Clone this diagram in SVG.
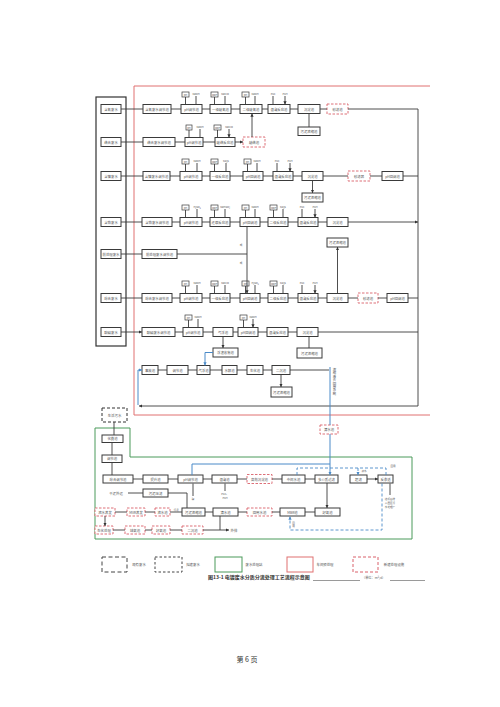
<svg xmlns="http://www.w3.org/2000/svg" width="500" height="707" viewBox="0 0 500 707">
<defs>
<marker id="ah" viewBox="0 0 6 6" refX="6" refY="3" markerWidth="3.2" markerHeight="3.2" orient="auto" markerUnits="userSpaceOnUse"><path d="M0,0L6,3L0,6z" fill="#333"/></marker>
<marker id="ahb" viewBox="0 0 6 6" refX="6" refY="3" markerWidth="3.2" markerHeight="3.2" orient="auto" markerUnits="userSpaceOnUse"><path d="M0,0L6,3L0,6z" fill="#4a8ac8"/></marker>
</defs>
<style>
.b{fill:#fff;stroke:#3a3a3a;stroke-width:1}
.r{fill:#fff;stroke:#d9606a;stroke-width:0.9;stroke-dasharray:2.5 1.5}
.s{fill:#fff;stroke:#3a3a3a;stroke-width:0.7}
.t{font-family:"Noto Sans CJK SC","Noto Sans",sans-serif;font-size:3.4px;fill:#555;text-anchor:middle;dominant-baseline:central}
.ts{font-size:2.6px}
.l{fill:none;stroke:#3a3a3a;stroke-width:0.9}
.a{marker-end:url(#ah)}
.bl{fill:none;stroke:#4a8ac8;stroke-width:1}
.bd{fill:none;stroke:#4a8ac8;stroke-width:0.9;stroke-dasharray:3 2}
.ab{marker-end:url(#ahb)}
</style>
<rect width="500" height="707" fill="#fff"/>

<!-- frames -->
<g id="frames">
<path d="M430,86H134V415H430" fill="none" stroke="#e07070" stroke-width="1"/>
<rect x="96" y="97" width="30" height="249" fill="none" stroke="#333" stroke-width="1.2"/>
<path d="M95,428H130V457H412V539H95Z" fill="none" stroke="#4a9a5a" stroke-width="1"/>
</g>

<!-- sources -->
<g id="s1"><rect class="b" x="101" y="104.5" width="20" height="9"/><text class="t" x="111" y="109">含氰废水</text></g>
<g id="s2"><rect class="b" x="101" y="137.5" width="20" height="9"/><text class="t" x="111" y="142">络合废水</text></g>
<g id="s3"><rect class="b" x="101" y="171.5" width="20" height="9"/><text class="t" x="111" y="176">含镍废水</text></g>
<g id="s4"><rect class="b" x="101" y="217.5" width="20" height="9"/><text class="t" x="111" y="222">含铬废水</text></g>
<g id="s5"><rect class="b" x="101" y="249.5" width="20" height="9"/><text class="t" x="111" y="254">前处理废水</text></g>
<g id="s6"><rect class="b" x="101" y="293.5" width="20" height="9"/><text class="t" x="111" y="298">综合废水</text></g>
<g id="s7"><rect class="b" x="101" y="327.5" width="20" height="9"/><text class="t" x="111" y="332">酸碱废水</text></g>

<!-- row 1 -->
<g id="c1"><rect class="b" x="143" y="104.5" width="28" height="9"/><text class="t" x="157" y="109">含氰废水调节池</text></g>
<g id="n1a"><rect class="b" x="181" y="104.5" width="21" height="9"/><text class="t" x="191.5" y="109">pH调节池</text><rect class="s" x="182" y="92" width="7" height="5"/><text class="t ts" x="185.5" y="94.5">pH</text><text class="t ts" x="196" y="93.5">NaOH</text></g>
<g id="n1b"><rect class="b" x="210" y="104.5" width="21" height="9"/><text class="t" x="220.5" y="109">一级破氰池</text><rect class="s" x="211" y="92" width="7" height="5"/><text class="t ts" x="214.5" y="94.5">ORP</text><text class="t ts" x="225" y="93.5">NaClO</text></g>
<g id="n1c"><rect class="b" x="240" y="104.5" width="22" height="9"/><text class="t" x="251" y="109">二级破氰池</text><rect class="s" x="242" y="92" width="7" height="5"/><text class="t ts" x="245.5" y="94.5">pH</text><text class="t ts" x="255" y="93.5">NaOH</text></g>
<g id="n1d"><rect class="b" x="268" y="104.5" width="22" height="9"/><text class="t" x="279" y="109">混凝反应池</text><text class="t ts" x="273" y="93.5">PAC</text><text class="t ts" x="285" y="93.5">PAM</text></g>
<g id="n1e"><rect class="b" x="298" y="104.5" width="22" height="9"/><text class="t" x="309" y="109">沉淀池</text></g>
<g id="n1f"><rect class="b" x="298" y="127" width="22" height="8.5"/><text class="t" x="309" y="131.25">污泥浓缩池</text></g>
<g id="n1g"><rect class="r" x="327" y="104" width="21" height="10"/><text class="t" x="337.5" y="109">砂滤池</text></g>

<!-- row 2 -->
<g id="c2"><rect class="b" x="143" y="137.5" width="32" height="9"/><text class="t" x="159" y="142">络合废水调节池</text></g>
<g id="n2a"><rect class="b" x="185" y="137.5" width="18" height="9"/><text class="t" x="194" y="142">pH调节池</text><rect class="s" x="186" y="125" width="6" height="5"/><text class="t ts" x="189" y="127.5">pH</text><text class="t ts" x="200" y="126.5">NaOH</text></g>
<g id="n2b"><rect class="b" x="215" y="137.5" width="20" height="9"/><text class="t" x="225" y="142">破络反应池</text><rect class="s" x="214" y="125" width="7" height="5"/><text class="t ts" x="217.5" y="127.5">ORP</text><text class="t ts" x="229" y="126.5">NaClO</text></g>
<g id="n2c"><rect class="r" x="243" y="137" width="22" height="10"/><text class="t" x="254" y="142">破络池</text></g>

<!-- row 3 -->
<g id="c3"><rect class="b" x="143" y="171.5" width="27" height="9"/><text class="t" x="156.5" y="176">含镍废水调节池</text></g>
<g id="n3a"><rect class="b" x="180" y="171.5" width="22" height="9"/><text class="t" x="191" y="176">pH调节池</text><rect class="s" x="182" y="159" width="7" height="5"/><text class="t ts" x="185.5" y="161.5">pH</text><text class="t ts" x="197" y="160.5">NaOH</text></g>
<g id="n3b"><rect class="b" x="210" y="171.5" width="20" height="9"/><text class="t" x="220" y="176">一级反应池</text><rect class="s" x="211" y="159" width="7" height="5"/><text class="t ts" x="214.5" y="161.5">ORP</text><text class="t ts" x="226" y="160.5">Na₂S</text></g>
<g id="n3c"><rect class="b" x="243" y="171.5" width="20" height="9"/><text class="t" x="253" y="176">pH回调池</text><rect class="s" x="244" y="159" width="7" height="5"/><text class="t ts" x="247.5" y="161.5">pH</text><text class="t ts" x="257" y="160.5">NaOH</text></g>
<g id="n3d"><rect class="b" x="273" y="171.5" width="20" height="9"/><text class="t" x="283" y="176">混凝反应池</text><text class="t ts" x="277" y="160.5">PAC</text><text class="t ts" x="290" y="160.5">PAM</text></g>
<g id="n3e"><rect class="b" x="302" y="171.5" width="21" height="9"/><text class="t" x="312.5" y="176">沉淀池</text></g>
<g id="n3f"><rect class="b" x="302" y="193" width="21" height="9"/><text class="t" x="312.5" y="197.5">污泥浓缩池</text></g>
<g id="n3g"><rect class="r" x="348" y="171" width="22" height="10"/><text class="t" x="359" y="176">砂滤器</text></g>
<g id="n3h"><rect class="b" x="382" y="171.5" width="21" height="9"/><text class="t" x="392.5" y="176">pH回调池</text></g>

<!-- row 4 -->
<g id="c4"><rect class="b" x="142" y="217.5" width="30" height="9"/><text class="t" x="157" y="222">含铬废水调节池</text></g>
<g id="n4a"><rect class="b" x="180" y="217.5" width="22" height="9"/><text class="t" x="191" y="222">pH调节池</text><rect class="s" x="182" y="205" width="7" height="5"/><text class="t ts" x="185.5" y="207.5">pH</text><text class="t ts" x="197" y="206.5">H₂SO₄</text></g>
<g id="n4b"><rect class="b" x="210" y="217.5" width="20" height="9"/><text class="t" x="220" y="222">还原反应池</text><rect class="s" x="211" y="205" width="7" height="5"/><text class="t ts" x="214.5" y="207.5">ORP</text><text class="t ts" x="225" y="206.5">NaHSO₃</text></g>
<g id="n4c"><rect class="b" x="240" y="217.5" width="20" height="9"/><text class="t" x="250" y="222">pH回调池</text><rect class="s" x="242" y="205" width="7" height="5"/><text class="t ts" x="245.5" y="207.5">pH</text><text class="t ts" x="255" y="206.5">NaOH</text></g>
<g id="n4d"><rect class="b" x="268" y="217.5" width="20" height="9"/><text class="t" x="278" y="222">二级反应池</text><rect class="s" x="270" y="205" width="7" height="5"/><text class="t ts" x="273.5" y="207.5">ORP</text><text class="t ts" x="283" y="206.5">Na₂S</text></g>
<g id="n4e"><rect class="b" x="298" y="217.5" width="20" height="9"/><text class="t" x="308" y="222">混凝反应池</text><text class="t ts" x="302" y="206.5">PAC</text><text class="t ts" x="315" y="206.5">PAM</text></g>
<g id="n4f"><rect class="b" x="327" y="217.5" width="21" height="9"/><text class="t" x="337.5" y="222">沉淀池</text></g>
<g id="n4g"><rect class="b" x="327" y="238" width="21" height="9"/><text class="t" x="337.5" y="242.5">污泥浓缩池</text></g>

<!-- row 5 -->
<g id="c5"><rect class="b" x="142" y="249.5" width="35" height="9"/><text class="t" x="159.5" y="254">前处理废水调节池</text></g>
<g id="or1"><text class="t ts" x="241" y="245">或</text></g>
<g id="or2"><text class="t ts" x="241" y="263">或</text></g>

<!-- row 6 -->
<g id="c6"><rect class="b" x="142" y="293.5" width="30" height="9"/><text class="t" x="157" y="298">综合废水调节池</text></g>
<g id="n6a"><rect class="b" x="180" y="293.5" width="22" height="9"/><text class="t" x="191" y="298">pH调节池</text><rect class="s" x="182" y="281" width="7" height="5"/><text class="t ts" x="185.5" y="283.5">pH</text><text class="t ts" x="197" y="282.5">NaOH</text></g>
<g id="n6b"><rect class="b" x="210" y="293.5" width="20" height="9"/><text class="t" x="220" y="298">一级反应池</text><rect class="s" x="211" y="281" width="7" height="5"/><text class="t ts" x="214.5" y="283.5">ORP</text><text class="t ts" x="225" y="282.5">NaClO</text></g>
<g id="n6c"><rect class="b" x="240" y="293.5" width="20" height="9"/><text class="t" x="250" y="298">pH回调池</text><rect class="s" x="242" y="281" width="7" height="5"/><text class="t ts" x="245.5" y="283.5">pH</text><text class="t ts" x="255" y="282.5">H₂SO₄</text></g>
<g id="n6d"><rect class="b" x="268" y="293.5" width="20" height="9"/><text class="t" x="278" y="298">二级反应池</text><rect class="s" x="270" y="281" width="7" height="5"/><text class="t ts" x="273.5" y="283.5">ORP</text><text class="t ts" x="283" y="282.5">Na₂S</text></g>
<g id="n6e"><rect class="b" x="298" y="293.5" width="20" height="9"/><text class="t" x="308" y="298">混凝反应池</text><text class="t ts" x="302" y="282.5">PAC</text><text class="t ts" x="315" y="282.5">PAM</text></g>
<g id="n6f"><rect class="b" x="327" y="293.5" width="21" height="9"/><text class="t" x="337.5" y="298">沉淀池</text></g>
<g id="n6g"><rect class="r" x="358" y="293" width="20" height="10"/><text class="t" x="368" y="298">砂滤池</text></g>
<g id="n6h"><rect class="b" x="387" y="293.5" width="21" height="9"/><text class="t" x="397.5" y="298">pH回调池</text></g>

<!-- row 7 -->
<g id="c7"><rect class="b" x="142" y="327.5" width="33" height="9"/><text class="t" x="158.5" y="332">酸碱废水调节池</text></g>
<g id="n7a"><rect class="b" x="183" y="327.5" width="20" height="9"/><text class="t" x="193" y="332">pH调节池</text><rect class="s" x="185" y="315" width="7" height="5"/><text class="t ts" x="188.5" y="317.5">pH</text><text class="t ts" x="198" y="316.5">NaOH</text></g>
<g id="n7b"><rect class="b" x="213" y="327.5" width="20" height="9"/><text class="t" x="223" y="332">气浮池</text></g>
<g id="n7c"><rect class="b" x="238" y="327.5" width="20" height="9"/><text class="t" x="248" y="332">pH回调池</text><rect class="s" x="240" y="315" width="7" height="5"/><text class="t ts" x="243.5" y="317.5">pH</text><text class="t ts" x="253" y="316.5">NaOH</text></g>
<g id="n7d"><rect class="b" x="267" y="327.5" width="21" height="9"/><text class="t" x="277.5" y="332">混凝反应池</text></g>
<g id="n7e"><rect class="b" x="297" y="327.5" width="21" height="9"/><text class="t" x="307.5" y="332">沉淀池</text></g>
<g id="n7f"><rect class="b" x="297" y="348" width="25" height="10"/><text class="t" x="309.5" y="353">污泥浓缩池</text></g>
<g id="n7g"><rect class="b" x="213" y="348" width="25" height="9"/><text class="t" x="225.5" y="352.5">浮渣收集池</text></g>

<!-- row 8 -->
<g id="n8a"><rect class="b" x="142" y="365.5" width="16" height="9"/><text class="t" x="150" y="370">事故池</text></g>
<g id="n8b"><rect class="b" x="167" y="365.5" width="21" height="9"/><text class="t" x="177.5" y="370">调节池</text></g>
<g id="n8c"><rect class="b" x="197" y="365.5" width="13" height="9"/><text class="t" x="203.5" y="370">气浮池</text></g>
<g id="n8d"><rect class="b" x="222" y="365.5" width="15" height="9"/><text class="t" x="229.5" y="370">水解池</text></g>
<g id="n8e"><rect class="b" x="247" y="365.5" width="16" height="9"/><text class="t" x="255" y="370">生化池</text></g>
<g id="n8f"><rect class="b" x="272" y="365.5" width="18" height="9"/><text class="t" x="281" y="370">二沉池</text></g>
<g id="n8g"><rect class="b" x="271" y="387" width="21" height="10"/><text class="t" x="281.5" y="392">污泥浓缩池</text></g>
<g id="vt"><text class="t" x="334.5" y="368" writing-mode="tb" style="text-anchor:start">浓缩液去回用系统</text></g>
<g id="n9"><rect class="r" x="320" y="425" width="18" height="9"/><text class="t" x="329" y="429.5">清水池</text></g>

<!-- green section -->
<g id="g0"><rect x="102" y="408" width="25" height="14" fill="#fff" stroke="#333" stroke-width="1" stroke-dasharray="3 2"/><text class="t" x="114.5" y="415">生活污水</text></g>
<g id="g1"><rect class="b" x="102" y="435" width="21" height="7.5"/><text class="t" x="112.5" y="438.75">化粪池</text></g>
<g id="g2"><rect class="b" x="102" y="455" width="20" height="7.5"/><text class="t" x="112" y="458.75">调节池</text></g>
<g id="g3"><rect class="b" x="103" y="475" width="30" height="8"/><text class="t" x="118" y="479">综合调节池</text></g>
<g id="g4"><rect class="b" x="143" y="475" width="25" height="8"/><text class="t" x="155.5" y="479">提升池</text></g>
<g id="g5"><rect class="b" x="178" y="475" width="25" height="8"/><text class="t" x="190.5" y="479">pH调节池</text></g>
<g id="g6"><rect class="b" x="212" y="475" width="25" height="8"/><text class="t" x="224.5" y="479">混凝池</text></g>
<g id="g7"><rect class="r" x="247" y="474.5" width="25" height="9"/><text class="t" x="259.5" y="479">高效沉淀池</text></g>
<g id="g8"><rect class="b" x="282" y="475" width="23" height="8"/><text class="t" x="293.5" y="479">中间水池</text></g>
<g id="g9"><rect class="b" x="315" y="475" width="23" height="8"/><text class="t" x="326.5" y="479">多介质过滤</text></g>
<g id="g10"><rect class="b" x="350" y="475" width="17" height="8"/><text class="t" x="358.5" y="479">超滤</text></g>
<g id="g11"><rect class="b" x="378" y="475" width="15" height="8"/><text class="t" x="385.5" y="479">反渗透</text></g>
<g id="g12"><rect class="b" x="143" y="489" width="25" height="8"/><text class="t" x="155.5" y="493">污泥压滤</text></g>
<g id="lbl"><text class="t" x="116" y="493">干泥外运</text><text class="t ts" x="193" y="499">碱</text><text class="t ts" x="225" y="494">PAC、</text><text class="t ts" x="225" y="498">PAM</text><text class="t ts" x="364" y="470.5">浓水</text><text class="t ts" x="393" y="466">回用</text><text class="t ts" x="390" y="499">达标后排</text><text class="t ts" x="390" y="503">入园区污</text><text class="t ts" x="390" y="507">水处理厂</text><text class="t ts" x="176" y="509.5">污泥</text><text class="t ts" x="293.5" y="522" writing-mode="tb" style="text-anchor:start">回用</text><text class="t" x="234" y="530">外排</text></g>

<g id="h1"><rect class="r" x="95" y="508" width="20" height="8"/><text class="t" x="105" y="512">浓水蒸发</text></g>
<g id="h2"><rect class="r" x="127" y="508" width="18" height="8"/><text class="t" x="136" y="512">MVR蒸发</text></g>
<g id="h3"><rect class="r" x="155" y="508" width="15" height="8"/><text class="t" x="162.5" y="512">浓水池</text></g>
<g id="h4"><rect class="b" x="182" y="508" width="23" height="8"/><text class="t" x="193.5" y="512">污泥浓缩池</text></g>
<g id="h5"><rect class="b" x="213" y="508" width="25" height="8"/><text class="t" x="225.5" y="512">清水池</text></g>
<g id="h6"><rect class="r" x="247" y="508" width="25" height="8"/><text class="t" x="259.5" y="512">回用水池</text></g>
<g id="h7"><rect class="b" x="280" y="508" width="25" height="8"/><text class="t" x="292.5" y="512">MBR池</text></g>
<g id="h8"><rect class="b" x="315" y="508" width="25" height="8"/><text class="t" x="327.5" y="512">好氧池</text></g>
<g id="k1"><rect class="r" x="95" y="526" width="18" height="8"/><text class="t" x="104" y="530">生化处理</text></g>
<g id="k2"><rect class="r" x="125" y="526" width="20" height="8"/><text class="t" x="135" y="530">缺氧池</text></g>
<g id="k3"><rect class="r" x="152" y="526" width="18" height="8"/><text class="t" x="161" y="530">好氧池</text></g>
<g id="k4"><rect class="r" x="182" y="526" width="21" height="8"/><text class="t" x="192.5" y="530">二沉池</text></g>

<!-- connectors -->
<g id="connectors">
<!-- sources to collection -->
<path class="l a" d="M121,109H143M121,142H143M121,176H143M121,222H142M121,254H142M121,298H142M121,332H142"/>
<!-- row1 -->
<path class="l a" d="M171,109H181M202,109H210M231,109H240M262,109H268M290,109H298M320,109H327M348,109H418M309,113.5V127M252,137V113.5"/>
<path class="l" d="M185.5,97V104.5M214.5,97V104.5M245.5,97V104.5"/>
<path class="l a" d="M196,96V104.5M225,96V104.5M255,96V104.5M273,96V104.5M285,96V104.5"/>
<!-- row2 -->
<path class="l a" d="M175,142H185M203,142H215M235,142H243"/>
<path class="l" d="M189,130V137.5M217.5,130V137.5"/>
<path class="l a" d="M200,129V137.5M229,129V137.5"/>
<!-- row3 -->
<path class="l a" d="M170,176H180M202,176H210M230,176H243M263,176H273M293,176H302M323,176H348M370,176H382M403,176H418M312.5,180.5V193"/>
<path class="l" d="M185.5,164V171.5M214.5,164V171.5M247.5,164V171.5"/>
<path class="l a" d="M197,163V171.5M226,163V171.5M257,163V171.5M277,163V171.5M290,163V171.5"/>
<!-- row4 -->
<path class="l a" d="M172,222H180M202,222H210M230,222H240M260,222H268M288,222H298M318,222H327M348,222H418"/>
<path class="l" d="M185.5,210V217.5M214.5,210V217.5M245.5,210V217.5M273.5,210V217.5"/>
<path class="l a" d="M197,209V217.5M225,209V217.5M255,209V217.5M283,209V217.5M302,209V217.5M315,209V217.5"/>
<!-- row5 -->
<path class="l" d="M177,254H247"/>
<path class="l a" d="M247,254V226.5M247,254V293.5"/>
<!-- row6 -->
<path class="l a" d="M172,298H180M202,298H210M230,298H240M260,298H268M288,298H298M318,298H327M348,298H358M378,298H387M408,298H418M337.5,293.5V247"/>
<path class="l" d="M185.5,286V293.5M214.5,286V293.5M245.5,286V293.5M273.5,286V293.5"/>
<path class="l a" d="M197,285V293.5M225,285V293.5M255,285V293.5M283,285V293.5M302,285V293.5M315,285V293.5"/>
<!-- row7 -->
<path class="l a" d="M175,332H183M203,332H213M233,332H238M258,332H267M288,332H297M318,332H418M309,336.5V348M223,336.5V348"/>
<path class="l" d="M188.5,320V327.5M243.5,320V327.5"/>
<path class="l a" d="M198,319V327.5M253,319V327.5"/>
<!-- row8 -->
<path class="l a" d="M158,370H167M188,370H197M210,370H222M237,370H247M263,370H272M290,370H329M281,374.5V387"/>
<path class="bl ab" d="M213,352.5H205V365.5"/>
<!-- trunk -->
<path class="l" d="M418,109V406"/>
<path class="l a" d="M418,406H139"/>
<path class="bl ab" d="M138,405V370H142"/>
<path class="bl" d="M330,367V425"/>
<path class="bl ab" d="M330,434V475"/>
<!-- green -->
<path class="l a" d="M114,422V435M112,442.5V455M112,462.5V475M133,479H143M168,479H178M203,479H212M237,479H247M272,479H282M305,479H315M367,479H378"/>
<path class="bl" d="M192,475V464H330"/>
<path class="bd" d="M297,475V468H386V475"/>
<path class="bd ab" d="M358,468V475"/>
<path class="l a" d="M193,496V483.5M225,491V483.5M390,495V483.5M143,493H128M187,508V493H168M327,483V508"/>
<path class="l a" d="M315,512H305M280,512H272M247,512H238M213,512H205M182,512H170M155,512H145M127,512H115M105,516V526"/>
<path class="l a" d="M113,530H125M145,530H152M170,530H182M203,530H229"/>
<path class="l" d="M220,516V530"/>
<path class="bd ab" d="M382,483.5V530H290V516.5"/>
</g>

<!-- legend -->
<g id="legend">
<rect x="102" y="557" width="25" height="15" fill="none" stroke="#444" stroke-width="1" stroke-dasharray="4 2.5"/>
<text class="t" x="139" y="564.5">现有废水</text>
<rect x="155" y="557" width="27" height="15" fill="none" stroke="#444" stroke-width="1" stroke-dasharray="2.5 2"/>
<text class="t" x="193" y="564.5">拟建废水</text>
<rect x="215" y="557" width="27" height="15" fill="none" stroke="#4a9a5a" stroke-width="1"/>
<text class="t" x="254" y="564.5">废水处理站</text>
<rect x="287" y="557" width="26" height="15" fill="none" stroke="#e07070" stroke-width="1"/>
<text class="t" x="325" y="564.5">车间预处理</text>
<rect x="353" y="557" width="25" height="15" fill="none" stroke="#d9606a" stroke-width="1" stroke-dasharray="3 2"/>
<text class="t" x="394" y="564.5">新建处理设施</text>
</g>
<g id="caption">
<text x="208" y="579" font-family="Noto Sans CJK SC, Noto Sans, sans-serif" font-size="5" font-weight="bold" fill="#333">图13-1  电镀废水分质分流处理工艺流程示意图</text>
<path d="M313,580.5H360M390,580.5H425" stroke="#555" stroke-width="0.6"/>
<text x="362" y="579" font-family="Noto Sans CJK SC, Noto Sans, sans-serif" font-size="3.2" fill="#666">（单位：m³/d）</text>
</g>
<text x="247" y="662" font-family="Noto Sans CJK SC, Noto Sans, sans-serif" font-size="7" fill="#333" text-anchor="middle">第 6 页</text>
</svg>
